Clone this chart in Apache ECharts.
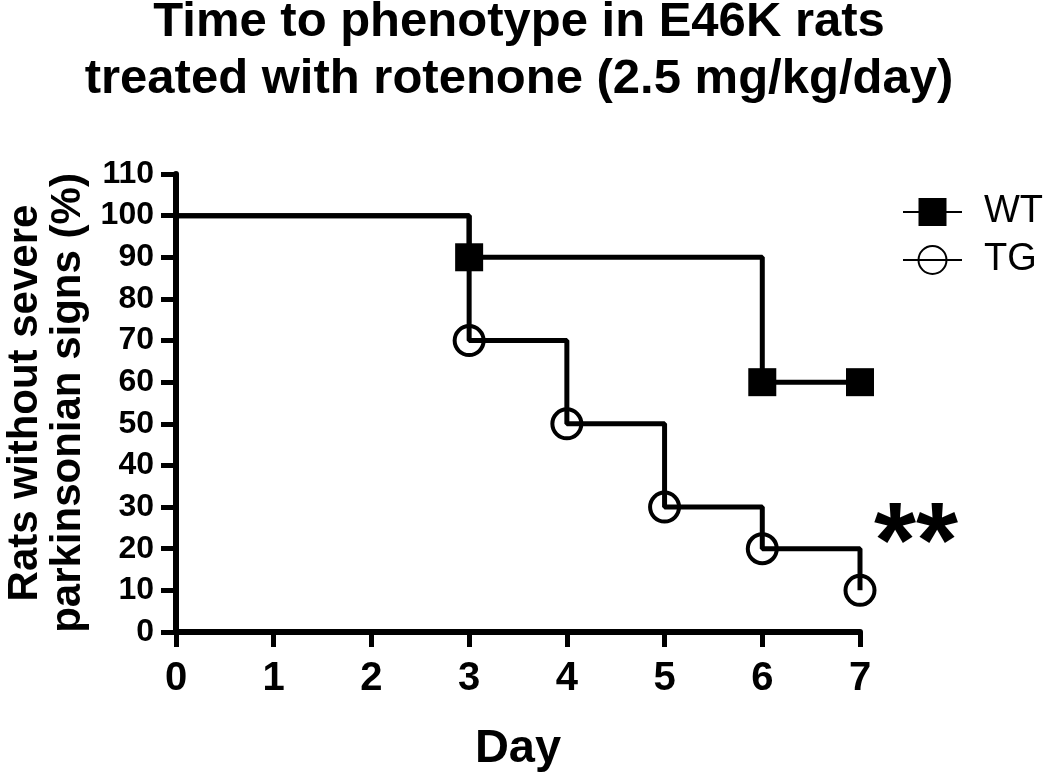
<!DOCTYPE html>
<html>
<head>
<meta charset="utf-8">
<script src="https://cdn.jsdelivr.net/npm/echarts@6/dist/echarts.min.js"></script>
<style>
  html, body { margin: 0; padding: 0; background: #fff; }
  #chart { width: 1050px; height: 778px; }
</style>
</head>
<body>
<div id="chart"></div>
<script>
// survival data
const wtDays = [0, 3, 6, 7];
const wtPct = [100, 90, 60, 60];
const tgDays = [0, 3, 4, 5, 6, 7];
const tgPct = [100, 70, 50, 30, 20, 10];
const seriesNames = ['WT', 'TG'];
const dayTicks = [0, 1, 2, 3, 4, 5, 6, 7];

const FONT = '"Liberation Sans", Arial, sans-serif';

// first point (day 0) has no marker
function toPoints(xs, ys) {
  return xs.map((x, i) => i === 0 ? { value: [x, ys[i]], symbol: 'none' } : [x, ys[i]]);
}

const chart = echarts.init(document.getElementById('chart'));

const option = {
  backgroundColor: '#fff',
  animation: false,
  title: {
    text: 'Time to phenotype in E46K rats\ntreated with rotenone (2.5 mg/kg/day)',
    left: 514,
    top: -11,
    textAlign: 'center',
    textStyle: { fontFamily: FONT, fontSize: 49, fontWeight: 'bold', color: '#000', lineHeight: 57 }
  },
  legend: {
    orient: 'vertical',
    left: 902,
    top: 193,
    padding: 0,
    itemWidth: 59,
    itemHeight: 35,
    itemGap: 10,
    data: seriesNames,
    textStyle: { fontFamily: FONT, fontSize: 38, color: '#000', padding: [0, 0, 0, 17] }
  },
  grid: { left: 176, right: 190, top: 174, bottom: 146, containLabel: false, outerBoundsMode: 'none' },
  xAxis: {
    type: 'value',
    min: 0,
    max: 7,
    interval: 1,
    name: 'Day',
    nameLocation: 'middle',
    nameGap: 94,
    nameTextStyle: { fontFamily: FONT, fontSize: 47, fontWeight: 'bold', color: '#000' },
    axisLine: { onZero: false, lineStyle: { color: '#000', width: 6 } },
    axisTick: { length: 15, lineStyle: { color: '#000', width: 5 } },
    axisLabel: {
      margin: 27,
      fontFamily: FONT, fontSize: 40, fontWeight: 'bold', color: '#000',
      formatter: v => dayTicks.includes(v) ? String(v) : ''
    },
    splitLine: { show: false }
  },
  yAxis: {
    type: 'value',
    min: 0,
    max: 110,
    interval: 10,
    name: 'Rats without severe\nparkinsonian signs (%)',
    nameLocation: 'middle',
    nameRotate: 90,
    nameGap: 70,
    nameTextStyle: { fontFamily: FONT, fontSize: 42, fontWeight: 'bold', color: '#000', lineHeight: 43 },
    axisLine: { show: true, onZero: false, lineStyle: { color: '#000', width: 6 } },
    axisTick: { show: true, length: 15, lineStyle: { color: '#000', width: 5 } },
    axisLabel: { margin: 22, fontFamily: FONT, fontSize: 32, fontWeight: 'bold', color: '#000' },
    splitLine: { show: false }
  },
  series: [
    {
      name: 'WT',
      type: 'line',
      step: 'end',
      data: toPoints(wtDays, wtPct),
      symbol: 'rect',
      symbolSize: 28,
      lineStyle: { color: '#000', width: 5 },
      itemStyle: { color: '#000' }
    },
    {
      name: 'TG',
      type: 'line',
      step: 'end',
      data: toPoints(tgDays, tgPct),
      symbol: 'circle',
      symbolSize: 29,
      lineStyle: { color: '#000', width: 5 },
      itemStyle: { color: 'transparent', borderColor: '#000', borderWidth: 4 }
    }
  ],
  graphic: [
    {
      type: 'text',
      left: 874,
      top: 493,
      style: { text: '**', fontFamily: FONT, fontSize: 108, fontWeight: 'bold', fill: '#000' }
    }
  ]
};

chart.setOption(option);
</script>
</body>
</html>
